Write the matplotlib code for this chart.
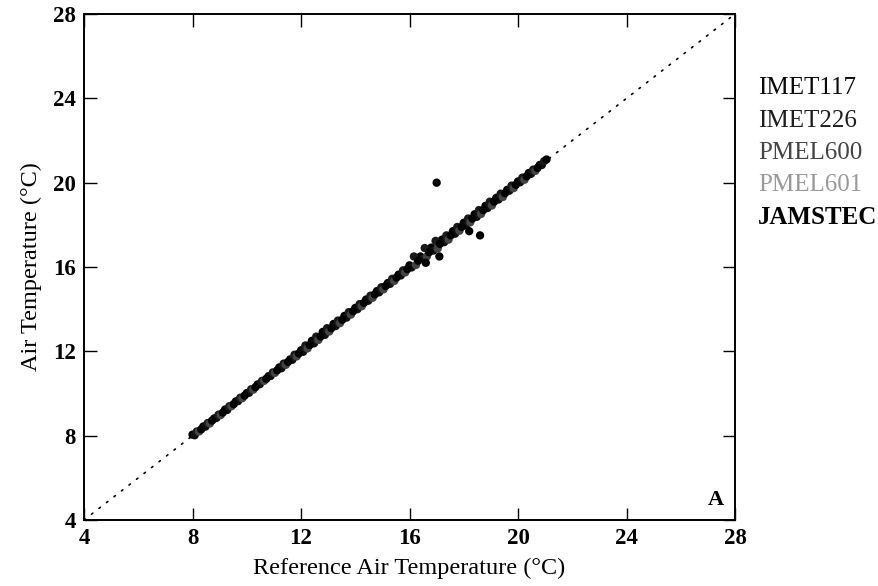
import matplotlib
matplotlib.use("Agg")
import matplotlib.pyplot as plt

ref_imet117 = [8.0, 8.4, 8.8, 9.2, 9.6, 10.0, 10.4, 10.8, 11.2, 11.6, 12.0, 12.4, 12.8, 13.2, 13.6, 14.0, 14.4, 14.8, 15.2, 15.6, 16.0, 16.4, 16.8, 17.2, 17.6, 18.0, 18.4, 18.8, 19.2, 19.6, 20.0, 20.4, 20.8]
air_imet117 = [8.05, 8.44, 8.82, 9.24, 9.63, 10.02, 10.43, 10.82, 11.24, 11.62, 12.05, 12.5, 12.92, 13.3, 13.68, 14.06, 14.46, 14.86, 15.24, 15.64, 16.08, 16.5, 16.92, 17.3, 17.7, 18.1, 18.5, 18.9, 19.28, 19.66, 20.06, 20.46, 20.84]

ref_imet226 = [8.08, 8.48, 8.88, 9.28, 9.68, 10.08, 10.48, 10.88, 11.28, 11.68, 12.08, 12.48, 12.88, 13.28, 13.68, 14.08, 14.48, 14.88, 15.28, 15.68, 16.08, 16.48, 16.88, 17.28, 17.68, 18.08, 18.48, 18.88, 19.28, 19.68, 20.08, 20.48, 20.88]
air_imet226 = [8.02, 8.43, 8.84, 9.22, 9.64, 10.03, 10.44, 10.83, 11.2, 11.6, 11.98, 12.38, 12.78, 13.2, 13.6, 14.0, 14.4, 14.8, 15.2, 15.6, 15.98, 16.38, 16.78, 17.18, 17.58, 17.98, 18.38, 18.8, 19.2, 19.62, 20.02, 20.42, 20.84]

ref_pmel600 = [8.16, 8.56, 8.96, 9.36, 9.76, 10.16, 10.56, 10.96, 11.36, 11.76, 12.16, 12.56, 12.96, 13.36, 13.76, 14.16, 14.56, 14.96, 15.36, 15.76, 16.16, 16.56, 16.96, 17.36, 17.76, 18.16, 18.56, 18.96, 19.36, 19.76, 20.16, 20.56, 20.96]
air_pmel600 = [8.2, 8.6, 9.0, 9.4, 9.8, 10.2, 10.6, 11.0, 11.42, 11.84, 12.28, 12.7, 13.1, 13.46, 13.86, 14.24, 14.64, 15.04, 15.44, 15.84, 16.5, 16.9, 17.24, 17.5, 17.9, 18.3, 18.7, 19.1, 19.48, 19.86, 20.24, 20.62, 21.02]

ref_pmel601 = [8.24, 8.64, 9.04, 9.44, 9.84, 10.24, 10.64, 11.04, 11.44, 11.84, 12.24, 12.64, 13.04, 13.44, 13.84, 14.24, 14.64, 15.04, 15.44, 15.84, 16.24, 16.64, 17.04, 17.44, 17.84, 18.24, 18.64, 19.04, 19.44, 19.84, 20.24, 20.64]
air_pmel601 = [8.2, 8.58, 8.98, 9.4, 9.78, 10.18, 10.6, 10.98, 11.36, 11.76, 12.14, 12.54, 12.94, 13.34, 13.74, 14.14, 14.54, 14.94, 15.34, 15.74, 16.1, 16.5, 16.88, 17.3, 17.72, 18.12, 18.52, 18.92, 19.32, 19.74, 20.14, 20.56]

ref_jamstec = [8.32, 8.72, 9.12, 9.52, 9.92, 10.32, 10.72, 11.12, 11.52, 11.92, 12.32, 12.72, 13.12, 13.52, 13.92, 14.32, 14.72, 15.12, 15.52, 15.92, 16.32, 16.72, 17.12, 17.52, 17.92, 18.32, 18.72, 19.12, 19.52, 19.92, 20.32, 20.72, 21.05, 17.0, 18.6, 18.2, 17.1, 16.6]
air_jamstec = [8.3, 8.72, 9.1, 9.5, 9.9, 10.3, 10.7, 11.1, 11.5, 11.9, 12.3, 12.7, 13.1, 13.5, 13.9, 14.3, 14.7, 15.1, 15.5, 15.9, 16.3, 16.7, 17.1, 17.5, 17.9, 18.3, 18.7, 19.1, 19.5, 19.9, 20.3, 20.7, 21.1, 20.0, 17.5, 17.7, 16.5, 16.2]

series_names = ["IMET117", "IMET226", "PMEL600", "PMEL601", "JAMSTEC"]
text_colors = ["#0a0a0a", "#1e1e1e", "#444444", "#999999", "#000000"]
mark_colors = ["#000000", "#111111", "#1a1a1a", "#444444", "#000000"]
series_ref = [ref_imet117, ref_imet226, ref_pmel600, ref_pmel601, ref_jamstec]
series_air = [air_imet117, air_imet226, air_pmel600, air_pmel601, air_jamstec]
ticks = [4, 8, 12, 16, 20, 24, 28]

plt.rcParams['font.family'] = ['Liberation Serif', 'DejaVu Serif']

fig = plt.figure(figsize=(8.79, 5.86), dpi=100)
ax = fig.add_axes([0.0956, 0.1126, 0.7406, 0.8635])

ax.plot([4, 28], [4, 28], color="black", lw=1.2, dashes=(1, 4.7),
        dash_capstyle="round", zorder=1)
for r, a, c in zip(series_ref, series_air, mark_colors):
    ax.scatter(r, a, s=36, color=c, edgecolors="none", zorder=2)

ax.set_xlim(4, 28)
ax.set_ylim(4, 28)
ax.set_xticks(ticks)
ax.set_yticks(ticks)
ax.tick_params(direction="in", length=9, width=1.0, top=True, right=True,
               labelsize=16.5, pad=6)
for lab in ax.get_xticklabels() + ax.get_yticklabels():
    lab.set_fontweight("bold")
for s in ax.spines.values():
    s.set_linewidth(1.4)
ax.set_xlabel("Reference Air Temperature (°C)", fontsize=17.5, labelpad=6)
ax.set_ylabel("Air Temperature (°C)", fontsize=17.5, labelpad=8)
ax.text(0.97, 0.04, "A", transform=ax.transAxes, fontsize=16,
        fontweight="bold", ha="center", va="center")

ys = [88, 121, 153, 185, 217]
for name, c, yp in zip(series_names, text_colors, ys):
    fig.text(758 / 879, 1 - yp / 586, name, color=c, fontsize=18,
             ha="left", va="center",
             fontweight="bold" if name == "JAMSTEC" else "normal")

fig.savefig("out.png", dpi=100)
